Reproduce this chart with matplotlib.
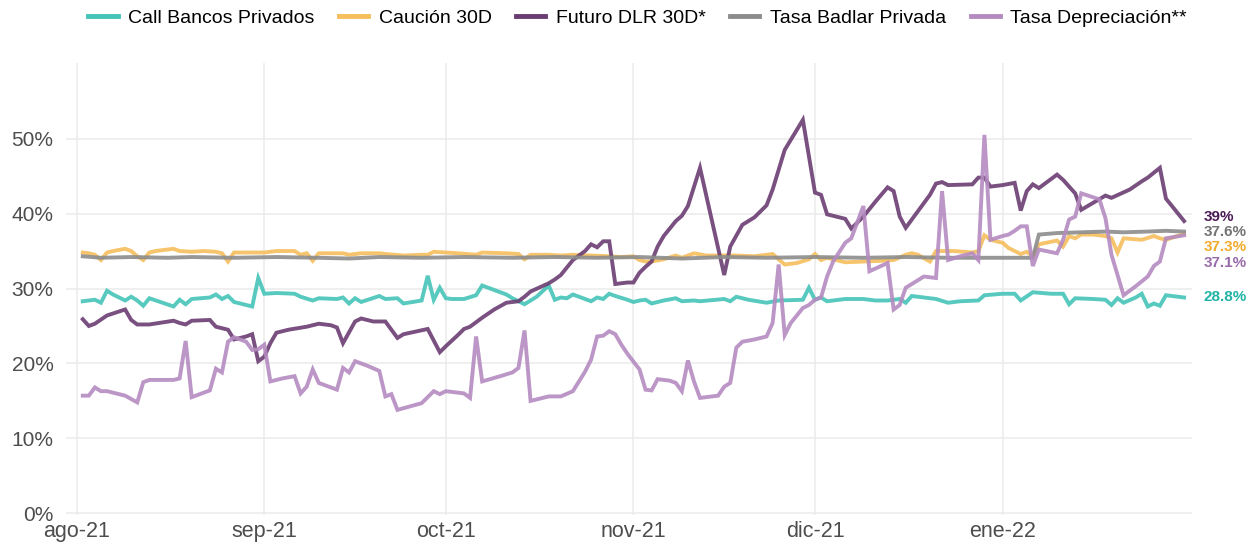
import numpy as np
import pandas as pd
import matplotlib
matplotlib.use("Agg")
import matplotlib.pyplot as plt
import matplotlib.dates as mdates

plt.rcParams['font.family'] = ['Liberation Sans', 'DejaVu Sans']

# ---- data (tasas anualizadas, %) ----
call_dates = ['2021-08-02', '2021-08-04', '2021-08-05', '2021-08-06', '2021-08-07', '2021-08-09', '2021-08-10',
              '2021-08-11', '2021-08-12', '2021-08-13', '2021-08-17', '2021-08-18', '2021-08-19', '2021-08-20',
              '2021-08-23', '2021-08-24', '2021-08-25', '2021-08-26', '2021-08-27', '2021-08-30', '2021-08-31',
              '2021-09-01', '2021-09-03', '2021-09-06', '2021-09-07', '2021-09-09', '2021-09-10', '2021-09-13',
              '2021-09-14', '2021-09-15', '2021-09-16', '2021-09-17', '2021-09-20', '2021-09-21', '2021-09-23',
              '2021-09-24', '2021-09-27', '2021-09-28', '2021-09-29', '2021-09-30',
              '2021-10-01', '2021-10-02', '2021-10-04', '2021-10-06', '2021-10-07', '2021-10-09', '2021-10-11',
              '2021-10-12', '2021-10-14', '2021-10-16', '2021-10-18', '2021-10-19', '2021-10-20', '2021-10-21',
              '2021-10-22', '2021-10-24', '2021-10-25', '2021-10-26', '2021-10-27', '2021-10-28', '2021-10-29',
              '2021-10-31',
              '2021-11-01', '2021-11-02', '2021-11-03', '2021-11-04', '2021-11-06', '2021-11-08', '2021-11-09',
              '2021-11-11', '2021-11-12', '2021-11-16', '2021-11-17', '2021-11-18', '2021-11-20', '2021-11-23',
              '2021-11-25', '2021-11-29', '2021-11-30',
              '2021-12-01', '2021-12-02', '2021-12-03', '2021-12-06', '2021-12-09', '2021-12-11', '2021-12-13',
              '2021-12-15', '2021-12-16', '2021-12-17', '2021-12-20', '2021-12-21', '2021-12-23', '2021-12-25',
              '2021-12-28', '2021-12-29',
              '2022-01-01', '2022-01-03', '2022-01-04', '2022-01-06', '2022-01-09', '2022-01-11', '2022-01-12',
              '2022-01-13', '2022-01-16', '2022-01-18', '2022-01-19', '2022-01-20', '2022-01-21', '2022-01-23',
              '2022-01-24', '2022-01-25', '2022-01-26', '2022-01-27', '2022-01-28', '2022-01-31']
call_vals = [28.3, 28.5, 28.1, 29.7, 29.2, 28.4, 28.9, 28.4, 27.7, 28.7, 27.6, 28.5, 27.9, 28.6, 28.8, 29.2, 28.6,
             29.0, 28.2, 27.6, 31.4,
             29.3, 29.4, 29.3, 28.9, 28.4, 28.7, 28.6, 28.8, 28.0, 28.7, 28.2, 29.0, 28.6, 28.7, 28.0, 28.4, 31.7,
             28.5, 30.1,
             28.7, 28.6, 28.6, 29.1, 30.4, 29.8, 29.2, 28.7, 27.9, 28.9, 30.4, 28.5, 28.8, 28.7, 29.2, 28.6, 28.3,
             28.8, 28.6, 29.3, 29.0, 28.5,
             28.2, 28.4, 28.5, 28.0, 28.4, 28.7, 28.3, 28.4, 28.3, 28.6, 28.3, 28.9, 28.5, 28.1, 28.4, 28.5, 30.1,
             28.5, 28.8, 28.3, 28.6, 28.6, 28.4, 28.4, 28.6, 28.1, 29.0, 28.7, 28.6, 28.1, 28.3, 28.4, 29.1,
             29.3, 29.3, 28.4, 29.5, 29.3, 29.3, 27.9, 28.7, 28.6, 28.5, 27.8, 28.7, 28.1, 28.8, 29.3, 27.6, 28.0,
             27.7, 29.1, 28.8]

caucion_dates = ['2021-08-02', '2021-08-03', '2021-08-04', '2021-08-05', '2021-08-06', '2021-08-07', '2021-08-09',
                 '2021-08-10', '2021-08-11', '2021-08-12', '2021-08-13', '2021-08-14', '2021-08-17', '2021-08-18',
                 '2021-08-20', '2021-08-22', '2021-08-24', '2021-08-25', '2021-08-26', '2021-08-27', '2021-08-31',
                 '2021-09-01', '2021-09-03', '2021-09-06', '2021-09-07', '2021-09-08', '2021-09-09', '2021-09-10',
                 '2021-09-14', '2021-09-15', '2021-09-17', '2021-09-20', '2021-09-21', '2021-09-24', '2021-09-27',
                 '2021-09-28', '2021-09-29',
                 '2021-10-01', '2021-10-03', '2021-10-06', '2021-10-07', '2021-10-11', '2021-10-13', '2021-10-14',
                 '2021-10-15', '2021-10-18', '2021-10-20', '2021-10-22', '2021-10-25', '2021-10-28', '2021-10-30',
                 '2021-11-01', '2021-11-02', '2021-11-03', '2021-11-04', '2021-11-06', '2021-11-08', '2021-11-09',
                 '2021-11-11', '2021-11-13', '2021-11-16', '2021-11-18', '2021-11-21', '2021-11-24', '2021-11-25',
                 '2021-11-26', '2021-11-28', '2021-11-30',
                 '2021-12-01', '2021-12-02', '2021-12-03', '2021-12-05', '2021-12-06', '2021-12-09', '2021-12-12',
                 '2021-12-14', '2021-12-16', '2021-12-17', '2021-12-18', '2021-12-20', '2021-12-21', '2021-12-22',
                 '2021-12-24', '2021-12-27', '2021-12-28', '2021-12-29', '2021-12-30',
                 '2022-01-01', '2022-01-02', '2022-01-04', '2022-01-05', '2022-01-06', '2022-01-07', '2022-01-10',
                 '2022-01-11', '2022-01-12', '2022-01-13', '2022-01-14', '2022-01-16', '2022-01-18', '2022-01-19',
                 '2022-01-20', '2022-01-21', '2022-01-24', '2022-01-26', '2022-01-27', '2022-01-28', '2022-01-31']
caucion_vals = [34.8, 34.7, 34.5, 33.8, 34.8, 35.0, 35.3, 35.0, 34.3, 33.8, 34.8, 35.0, 35.3, 35.0, 34.9, 35.0,
                34.9, 34.7, 33.6, 34.8, 34.8,
                34.8, 35.0, 35.0, 34.5, 34.7, 33.7, 34.7, 34.7, 34.5, 34.7, 34.7, 34.6, 34.4, 34.5, 34.5, 34.9,
                34.8, 34.7, 34.5, 34.8, 34.7, 34.6, 33.9, 34.5, 34.5, 34.4, 34.5, 34.4, 34.3, 34.2,
                34.3, 33.8, 33.6, 33.6, 33.9, 34.4, 34.1, 34.7, 34.4, 34.4, 34.4, 34.3, 34.6, 33.9, 33.2, 33.4, 33.9,
                34.6, 33.8, 34.1, 33.7, 33.5, 33.6, 33.7, 33.8, 34.5, 34.7, 34.5, 33.6, 35.0, 35.0, 35.0, 34.8,
                35.0, 37.1, 36.5,
                36.1, 35.4, 34.6, 34.9, 34.3, 35.9, 36.4, 35.6, 37.0, 36.7, 37.2, 37.2, 37.0, 36.7, 34.8, 36.7,
                36.5, 37.0, 36.7, 36.5, 37.3]

futuro_dates = ['2021-08-02', '2021-08-03', '2021-08-04', '2021-08-06', '2021-08-09', '2021-08-10', '2021-08-11',
                '2021-08-13', '2021-08-17', '2021-08-18', '2021-08-19', '2021-08-20', '2021-08-23', '2021-08-24',
                '2021-08-26', '2021-08-27', '2021-08-29', '2021-08-30', '2021-08-31',
                '2021-09-01', '2021-09-02', '2021-09-03', '2021-09-05', '2021-09-08', '2021-09-10', '2021-09-12',
                '2021-09-13', '2021-09-14', '2021-09-16', '2021-09-17', '2021-09-19', '2021-09-21', '2021-09-23',
                '2021-09-24', '2021-09-28', '2021-09-30',
                '2021-10-01', '2021-10-03', '2021-10-04', '2021-10-05', '2021-10-07', '2021-10-09', '2021-10-11',
                '2021-10-13', '2021-10-14', '2021-10-15', '2021-10-18', '2021-10-19', '2021-10-20', '2021-10-22',
                '2021-10-24', '2021-10-25', '2021-10-26', '2021-10-27', '2021-10-28', '2021-10-29', '2021-10-31',
                '2021-11-01', '2021-11-02', '2021-11-03', '2021-11-04', '2021-11-05', '2021-11-06', '2021-11-08',
                '2021-11-09', '2021-11-10', '2021-11-12', '2021-11-16', '2021-11-17', '2021-11-19', '2021-11-21',
                '2021-11-23', '2021-11-24', '2021-11-26', '2021-11-29',
                '2021-12-01', '2021-12-02', '2021-12-03', '2021-12-06', '2021-12-07', '2021-12-09', '2021-12-11',
                '2021-12-13', '2021-12-14', '2021-12-15', '2021-12-16', '2021-12-18', '2021-12-20', '2021-12-21',
                '2021-12-22', '2021-12-23', '2021-12-27', '2021-12-28', '2021-12-29', '2021-12-30',
                '2022-01-01', '2022-01-03', '2022-01-04', '2022-01-05', '2022-01-06', '2022-01-07', '2022-01-10',
                '2022-01-11', '2022-01-13', '2022-01-14', '2022-01-18', '2022-01-19', '2022-01-22', '2022-01-24',
                '2022-01-25', '2022-01-27', '2022-01-28', '2022-01-31']
futuro_vals = [25.9, 25.0, 25.3, 26.4, 27.2, 25.8, 25.2, 25.2, 25.7, 25.4, 25.2, 25.7, 25.8, 24.9, 24.5, 23.2,
               23.6, 23.9, 20.3,
               20.9, 22.7, 24.1, 24.5, 24.9, 25.3, 25.1, 24.8, 22.7, 25.6, 26.0, 25.6, 25.6, 23.4, 23.9, 24.6, 21.5,
               22.3, 23.8, 24.6, 24.9, 26.1, 27.2, 28.1, 28.3, 28.9, 29.6, 30.7, 31.2, 31.8, 33.8, 35.0, 35.9,
               35.5, 36.3, 36.3, 30.6, 30.8,
               30.8, 32.1, 32.9, 33.6, 35.6, 37.0, 39.0, 39.7, 41.0, 46.1, 31.8, 35.6, 38.5, 39.5, 41.1, 43.2,
               48.5, 52.5,
               42.8, 42.5, 39.9, 39.3, 38.0, 39.6, 41.6, 43.5, 43.0, 39.6, 38.1, 40.3, 42.5, 44.0, 44.2, 43.8,
               43.9, 44.8, 44.8, 43.6,
               43.8, 44.1, 40.4, 43.0, 43.9, 43.4, 45.2, 44.5, 42.7, 40.5, 42.4, 42.1, 43.2, 44.3, 44.8, 46.1,
               42.0, 39.0]

badlar_dates = ['2021-08-02', '2021-08-05', '2021-08-10', '2021-08-16', '2021-08-20', '2021-08-27', '2021-09-03',
                '2021-09-10', '2021-09-15', '2021-09-20', '2021-09-27', '2021-10-04', '2021-10-12', '2021-10-19',
                '2021-10-26', '2021-11-02', '2021-11-09', '2021-11-16', '2021-11-23', '2021-12-01', '2021-12-09',
                '2021-12-16', '2021-12-23', '2021-12-30', '2022-01-06', '2022-01-07', '2022-01-10', '2022-01-14',
                '2022-01-18', '2022-01-21', '2022-01-25', '2022-01-28', '2022-01-31']
badlar_vals = [34.3, 34.1, 34.2, 34.1, 34.2, 34.1, 34.2, 34.1, 34.0, 34.2, 34.1, 34.2, 34.1, 34.2, 34.1, 34.2,
               34.0, 34.2, 34.1, 34.2, 34.1, 34.2, 34.1, 34.1, 34.1, 37.2, 37.4, 37.5, 37.6, 37.5, 37.6, 37.7, 37.6]

deprec_dates = ['2021-08-02', '2021-08-03', '2021-08-04', '2021-08-05', '2021-08-06', '2021-08-09', '2021-08-11',
                '2021-08-12', '2021-08-13', '2021-08-17', '2021-08-18', '2021-08-19', '2021-08-20', '2021-08-23',
                '2021-08-24', '2021-08-25', '2021-08-26', '2021-08-27', '2021-08-29', '2021-08-30', '2021-08-31',
                '2021-09-01', '2021-09-02', '2021-09-04', '2021-09-06', '2021-09-07', '2021-09-08', '2021-09-09',
                '2021-09-10', '2021-09-13', '2021-09-14', '2021-09-15', '2021-09-16', '2021-09-18', '2021-09-20',
                '2021-09-21', '2021-09-22', '2021-09-23', '2021-09-27', '2021-09-29', '2021-09-30',
                '2021-10-01', '2021-10-04', '2021-10-05', '2021-10-06', '2021-10-07', '2021-10-10', '2021-10-12',
                '2021-10-13', '2021-10-14', '2021-10-15', '2021-10-18', '2021-10-20', '2021-10-22', '2021-10-24',
                '2021-10-25', '2021-10-26', '2021-10-27', '2021-10-28', '2021-10-29', '2021-10-30', '2021-10-31',
                '2021-11-02', '2021-11-03', '2021-11-04', '2021-11-05', '2021-11-07', '2021-11-08', '2021-11-09',
                '2021-11-10', '2021-11-11', '2021-11-12', '2021-11-15', '2021-11-16', '2021-11-17', '2021-11-18',
                '2021-11-19', '2021-11-21', '2021-11-23', '2021-11-24', '2021-11-25', '2021-11-26', '2021-11-27',
                '2021-11-29', '2021-11-30',
                '2021-12-01', '2021-12-02', '2021-12-03', '2021-12-04', '2021-12-06', '2021-12-07', '2021-12-09',
                '2021-12-10', '2021-12-13', '2021-12-14', '2021-12-15', '2021-12-16', '2021-12-19', '2021-12-21',
                '2021-12-22', '2021-12-23', '2021-12-25', '2021-12-27', '2021-12-28', '2021-12-29', '2021-12-30',
                '2022-01-01', '2022-01-02', '2022-01-03', '2022-01-04', '2022-01-05', '2022-01-06', '2022-01-07',
                '2022-01-10', '2022-01-11', '2022-01-12', '2022-01-13', '2022-01-14', '2022-01-17', '2022-01-18',
                '2022-01-19', '2022-01-21', '2022-01-23', '2022-01-25', '2022-01-26', '2022-01-27', '2022-01-28',
                '2022-01-31']
deprec_vals = [15.7, 15.7, 16.8, 16.3, 16.3, 15.7, 14.8, 17.5, 17.8, 17.8, 18.0, 23.0, 15.5, 16.4, 19.3, 18.8,
               22.9, 23.5, 22.9, 21.8, 21.9,
               22.5, 17.6, 18.0, 18.3, 16.0, 16.9, 19.2, 17.4, 16.5, 19.4, 18.8, 20.3, 19.7, 19.0, 15.6, 15.9,
               13.8, 14.7, 16.3, 15.9,
               16.3, 16.0, 15.4, 23.6, 17.6, 18.3, 18.8, 19.4, 24.4, 15.0, 15.6, 15.6, 16.3, 18.9, 20.5, 23.6,
               23.7, 24.3, 23.9, 22.5, 21.3,
               19.2, 16.5, 16.4, 17.9, 17.7, 17.4, 16.3, 20.4, 17.6, 15.4, 15.7, 16.9, 17.4, 22.1, 22.9, 23.2,
               23.6, 25.4, 33.2, 23.8, 25.4, 27.4, 27.8,
               28.5, 28.8, 31.6, 33.6, 36.1, 36.7, 41.0, 32.3, 33.4, 27.2, 27.8, 30.1, 31.6, 31.4, 43.0, 33.8,
               34.3, 34.7, 33.8, 50.5, 36.5,
               37.0, 37.2, 37.7, 38.3, 38.3, 33.0, 35.2, 34.7, 36.5, 39.2, 39.6, 42.7, 41.9, 39.4, 34.5, 29.1,
               30.3, 31.6, 33.0, 33.6, 36.7, 37.1]

series_names = ['Call Bancos Privados', 'Caución 30D', 'Futuro DLR 30D*', 'Tasa Badlar Privada',
                'Tasa Depreciación**']
line_colors = ['#45C4B8', '#F6BE5C', '#6A3D72', '#8C8C8C', '#B48BC0']
label_colors = ['#1FB3A6', '#F2AA2C', '#4B1A56', '#737373', '#9A6BAA']
end_labels = ['28.8%', '37.3%', '39%', '37.6%', '37.1%']
label_y = [28.9, 35.5, 39.5, 37.5, 33.45]

tick_dates = ['2021-08-01', '2021-09-01', '2021-10-01', '2021-11-01', '2021-12-01', '2022-01-01']
tick_labels = ['ago-21', 'sep-21', 'oct-21', 'nov-21', 'dic-21', 'ene-22']

all_series = [(call_dates, call_vals), (caucion_dates, caucion_vals), (futuro_dates, futuro_vals),
              (badlar_dates, badlar_vals), (deprec_dates, deprec_vals)]

fig = plt.figure(figsize=(12.48, 5.46), dpi=100)
ax = fig.add_axes([0.0529, 0.0559, 0.9022, 0.8288])

for (d, v), name, c in zip(all_series, series_names, line_colors):
    ax.plot(pd.to_datetime(d), v, color=c, lw=2.8, alpha=0.9, label=name, solid_joinstyle='miter')

# etiquetas del ultimo valor
for (d, v), txt, c, yy in zip(all_series, end_labels, label_colors, label_y):
    x_lab = mdates.date2num(pd.to_datetime(d[-1])) + 3.2
    ax.text(x_lab, yy, txt, color=c, fontsize=11, fontweight='bold', va='center', ha='left', clip_on=False)

x0 = mdates.date2num(pd.Timestamp('2021-08-01'))
ax.set_xlim(x0 - 1.77, x0 + 184.3)
ax.set_ylim(-0.29, 60.1)

ax.set_xticks(mdates.date2num(pd.to_datetime(tick_dates)))
ax.set_xticklabels(tick_labels)
ax.set_yticks([0, 10, 20, 30, 40, 50])
ax.set_yticklabels([f'{t}%' for t in [0, 10, 20, 30, 40, 50]])
ax.tick_params(axis='both', length=0, labelcolor='#4D4D4D')
ax.tick_params(axis='x', labelsize=15.5, pad=4)
ax.tick_params(axis='y', labelsize=15, pad=9)
ax.grid(True, color='#EBEBEB', lw=1.1)
ax.set_axisbelow(True)
for s in ax.spines.values():
    s.set_visible(False)

leg = fig.legend(loc='center', bbox_to_anchor=(0.511, 1 - 18 / 546), ncol=5, frameon=False,
                 fontsize=14, handlelength=1.5, handletextpad=0.55, columnspacing=1.25)
for h in leg.get_lines():
    h.set_linewidth(3.5)
    h.set_alpha(1)

fig.savefig('out.png', dpi=100)
